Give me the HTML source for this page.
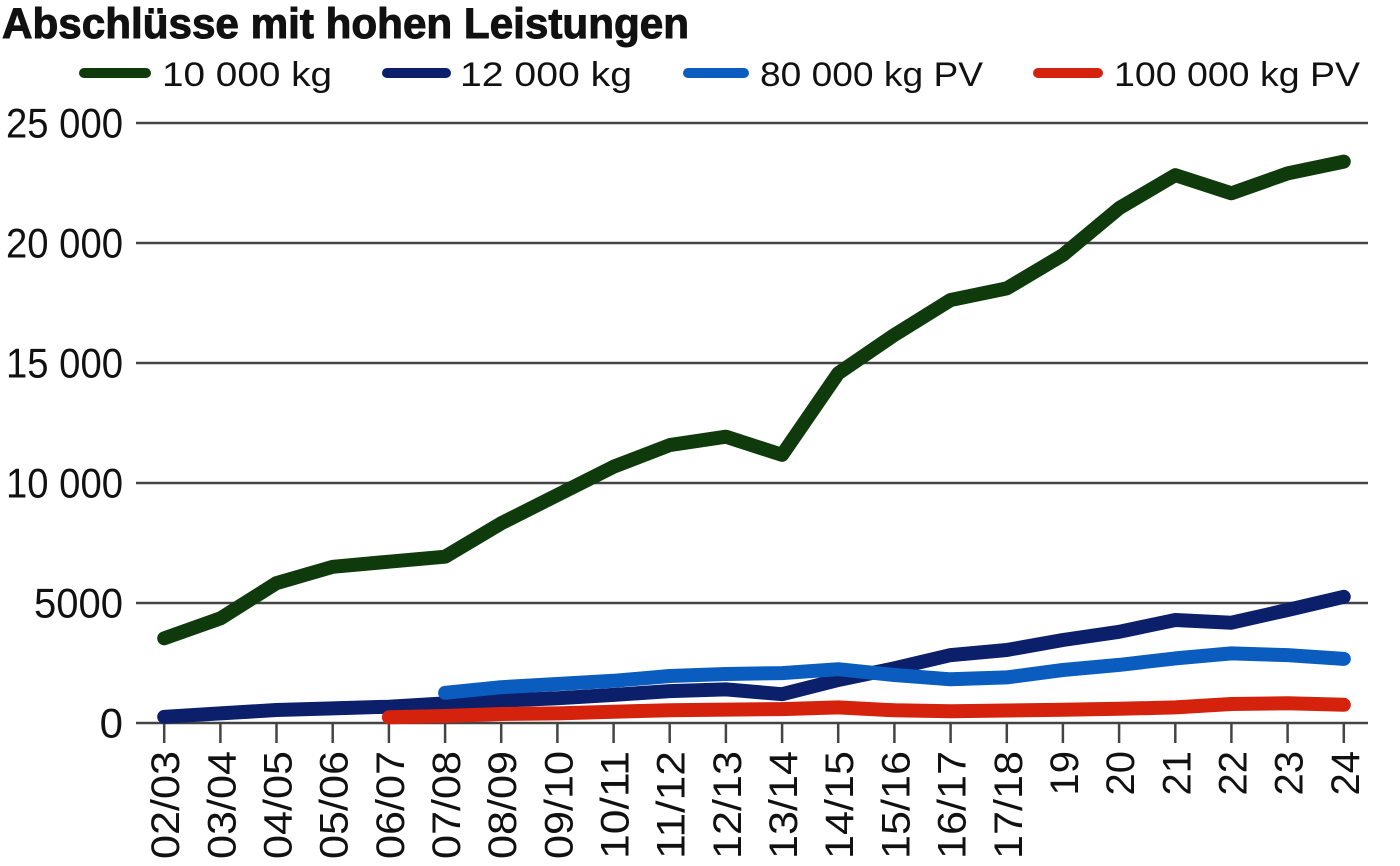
<!DOCTYPE html>
<html>
<head>
<meta charset="utf-8">
<style>
html,body{margin:0;padding:0;background:#fff;}
svg{display:block;}
text{font-family:"Liberation Sans",Arial,sans-serif;fill:#111;}
</style>
</head>
<body>
<svg width="1400" height="866" viewBox="0 0 1400 866" xmlns="http://www.w3.org/2000/svg">
<rect width="1400" height="866" fill="#fff"/>
<!-- Title -->
<text x="2" y="38" font-size="43" font-weight="bold" stroke="#111" stroke-width="1" textLength="687" lengthAdjust="spacingAndGlyphs">Abschlüsse mit hohen Leistungen</text>

<!-- Legend -->
<g stroke-width="10" stroke-linecap="round">
<line x1="84" y1="73" x2="146" y2="73" stroke="#0e3a0c"/>
<line x1="387" y1="73" x2="446" y2="73" stroke="#0c1f6a"/>
<line x1="688" y1="73" x2="744" y2="73" stroke="#0a5cbf"/>
<line x1="1038" y1="73" x2="1098" y2="73" stroke="#d4220c"/>
</g>
<g font-size="34">
<text x="162" y="86" textLength="170" lengthAdjust="spacingAndGlyphs">10 000 kg</text>
<text x="460" y="86" textLength="172" lengthAdjust="spacingAndGlyphs">12 000 kg</text>
<text x="760" y="86" textLength="223" lengthAdjust="spacingAndGlyphs">80 000 kg PV</text>
<text x="1114" y="86" textLength="246" lengthAdjust="spacingAndGlyphs">100 000 kg PV</text>
</g>

<!-- Gridlines -->
<g stroke="#444" stroke-width="2.5">
<line x1="136" y1="123" x2="1368" y2="123"/>
<line x1="136" y1="243" x2="1368" y2="243"/>
<line x1="136" y1="363" x2="1368" y2="363"/>
<line x1="136" y1="483" x2="1368" y2="483"/>
<line x1="136" y1="603" x2="1368" y2="603"/>
<line x1="136" y1="723" x2="1368" y2="723"/>
</g>

<!-- Y labels -->
<g font-size="42" text-anchor="end">
<text x="123" y="137.5" textLength="117" lengthAdjust="spacingAndGlyphs">25 000</text>
<text x="123" y="257.5" textLength="117" lengthAdjust="spacingAndGlyphs">20 000</text>
<text x="123" y="377.5" textLength="117" lengthAdjust="spacingAndGlyphs">15 000</text>
<text x="123" y="497.5" textLength="117" lengthAdjust="spacingAndGlyphs">10 000</text>
<text x="123" y="617.5" textLength="89" lengthAdjust="spacingAndGlyphs">5000</text>
<text x="123" y="737.5">0</text>
</g>

<!-- Ticks -->
<g stroke="#444" stroke-width="2.5">
<line x1="164.2" y1="723" x2="164.2" y2="743"/>
<line x1="220.4" y1="723" x2="220.4" y2="743"/>
<line x1="276.5" y1="723" x2="276.5" y2="743"/>
<line x1="332.7" y1="723" x2="332.7" y2="743"/>
<line x1="388.9" y1="723" x2="388.9" y2="743"/>
<line x1="445.1" y1="723" x2="445.1" y2="743"/>
<line x1="501.2" y1="723" x2="501.2" y2="743"/>
<line x1="557.4" y1="723" x2="557.4" y2="743"/>
<line x1="613.6" y1="723" x2="613.6" y2="743"/>
<line x1="669.7" y1="723" x2="669.7" y2="743"/>
<line x1="725.9" y1="723" x2="725.9" y2="743"/>
<line x1="782.1" y1="723" x2="782.1" y2="743"/>
<line x1="838.2" y1="723" x2="838.2" y2="743"/>
<line x1="894.4" y1="723" x2="894.4" y2="743"/>
<line x1="950.6" y1="723" x2="950.6" y2="743"/>
<line x1="1006.8" y1="723" x2="1006.8" y2="743"/>
<line x1="1062.9" y1="723" x2="1062.9" y2="743"/>
<line x1="1119.1" y1="723" x2="1119.1" y2="743"/>
<line x1="1175.3" y1="723" x2="1175.3" y2="743"/>
<line x1="1231.4" y1="723" x2="1231.4" y2="743"/>
<line x1="1287.6" y1="723" x2="1287.6" y2="743"/>
<line x1="1343.8" y1="723" x2="1343.8" y2="743"/>
</g>

<!-- X labels -->
<g font-size="40" text-anchor="end">
<text transform="translate(179.2,751) rotate(-90)" textLength="108" lengthAdjust="spacingAndGlyphs">02/03</text>
<text transform="translate(235.4,751) rotate(-90)" textLength="108" lengthAdjust="spacingAndGlyphs">03/04</text>
<text transform="translate(291.5,751) rotate(-90)" textLength="108" lengthAdjust="spacingAndGlyphs">04/05</text>
<text transform="translate(347.7,751) rotate(-90)" textLength="108" lengthAdjust="spacingAndGlyphs">05/06</text>
<text transform="translate(403.9,751) rotate(-90)" textLength="108" lengthAdjust="spacingAndGlyphs">06/07</text>
<text transform="translate(460.1,751) rotate(-90)" textLength="108" lengthAdjust="spacingAndGlyphs">07/08</text>
<text transform="translate(516.2,751) rotate(-90)" textLength="108" lengthAdjust="spacingAndGlyphs">08/09</text>
<text transform="translate(572.4,751) rotate(-90)" textLength="108" lengthAdjust="spacingAndGlyphs">09/10</text>
<text transform="translate(628.6,751) rotate(-90)" textLength="108" lengthAdjust="spacingAndGlyphs">10/11</text>
<text transform="translate(684.7,751) rotate(-90)" textLength="108" lengthAdjust="spacingAndGlyphs">11/12</text>
<text transform="translate(740.9,751) rotate(-90)" textLength="108" lengthAdjust="spacingAndGlyphs">12/13</text>
<text transform="translate(797.1,751) rotate(-90)" textLength="108" lengthAdjust="spacingAndGlyphs">13/14</text>
<text transform="translate(853.2,751) rotate(-90)" textLength="108" lengthAdjust="spacingAndGlyphs">14/15</text>
<text transform="translate(909.4,751) rotate(-90)" textLength="108" lengthAdjust="spacingAndGlyphs">15/16</text>
<text transform="translate(965.6,751) rotate(-90)" textLength="108" lengthAdjust="spacingAndGlyphs">16/17</text>
<text transform="translate(1021.8,751) rotate(-90)" textLength="108" lengthAdjust="spacingAndGlyphs">17/18</text>
<text transform="translate(1077.9,751) rotate(-90)">19</text>
<text transform="translate(1134.1,751) rotate(-90)">20</text>
<text transform="translate(1190.3,751) rotate(-90)">21</text>
<text transform="translate(1246.4,751) rotate(-90)">22</text>
<text transform="translate(1302.6,751) rotate(-90)">23</text>
<text transform="translate(1358.8,751) rotate(-90)">24</text>
</g>

<!-- Series -->
<g fill="none" stroke-width="14" stroke-linecap="round" stroke-linejoin="round">
<polyline stroke="#0e3a0c" points="164.2,638.3 220.4,618.4 276.5,583.1 332.7,566.8 388.9,561.7 445.1,556.7 501.2,523.3 557.4,495 613.6,466.7 669.7,445.1 725.9,436.7 782.1,454.9 838.2,373.3 894.4,334.9 950.6,300 1006.8,288.4 1062.9,255 1119.1,208.2 1175.3,175.1 1231.4,193.3 1287.6,173.4 1343.8,161.6"/>
<polyline stroke="#0c1f6a" points="164.2,716.8 220.4,713.4 276.5,710 332.7,708.4 388.9,706.7 445.1,703.3 501.2,700.7 557.4,698.3 613.6,694.9 669.7,691.1 725.9,689.4 782.1,694.2 838.2,680 894.4,668.3 950.6,655.1 1006.8,650 1062.9,640 1119.1,631.8 1175.3,620 1231.4,622.7 1287.6,610 1343.8,596.8"/>
<polyline stroke="#0a5cbf" points="445.1,692.8 501.2,687.2 557.4,684 613.6,680.8 669.7,676 725.9,674 782.1,673.1 838.2,669.2 894.4,675 950.6,679.3 1006.8,677.4 1062.9,670 1119.1,664.9 1175.3,658.4 1231.4,653.4 1287.6,655.1 1343.8,658.9"/>
<polyline stroke="#d4220c" points="388.9,717.2 445.1,716 501.2,714 557.4,713.4 613.6,711.7 669.7,710.3 725.9,709.6 782.1,709.1 838.2,707.4 894.4,710.3 950.6,711.2 1006.8,710.5 1062.9,709.8 1119.1,708.8 1175.3,707.4 1231.4,704 1287.6,703.3 1343.8,704.8"/>
</g>
</svg>
</body>
</html>
